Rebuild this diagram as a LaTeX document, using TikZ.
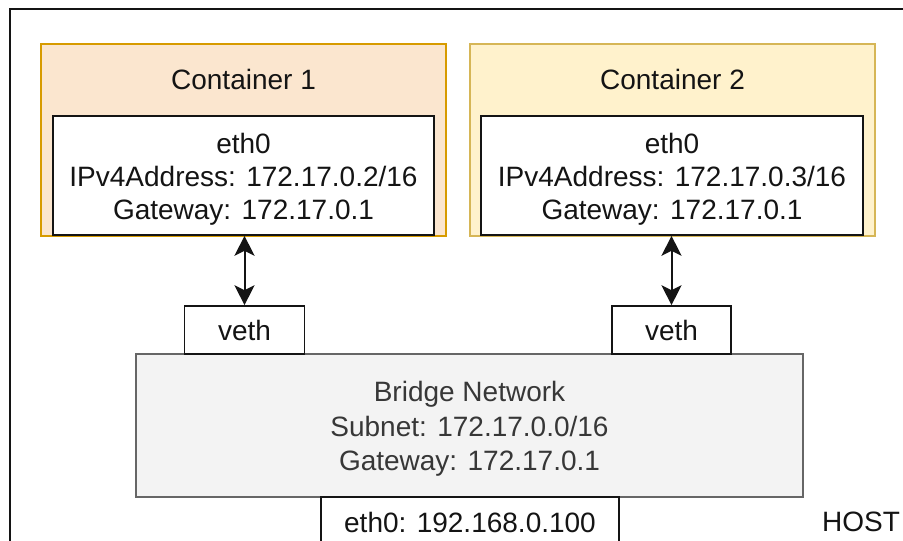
\documentclass[tikz,border=0pt]{standalone}
\usepackage{fontspec}
\setmainfont{Liberation Sans}
\usetikzlibrary{arrows.meta}
\definecolor{orfill}{HTML}{FBE6CF}
\definecolor{ordraw}{HTML}{D79B00}
\definecolor{yefill}{HTML}{FFF2CC}
\definecolor{yedraw}{HTML}{D6B656}
\definecolor{brfill}{HTML}{F3F3F3}
\definecolor{brdraw}{HTML}{666666}
\definecolor{ink}{HTML}{141414}
\begin{document}
\begin{tikzpicture}[x=1pt,y=-1pt,
  every node/.style={font=\fontsize{28}{33}\selectfont, text=ink},
  box/.style={draw=ink, line width=1.6pt, rectangle, inner sep=0pt, align=center},
  label text/.style={align=center, inner sep=0pt},
  container/.style={rectangle, line width=1.6pt, inner sep=0pt},
  link/.style={draw=ink, line width=2pt, {Stealth[length=20pt,width=20pt,inset=5pt]}-{Stealth[length=20pt,width=20pt,inset=5pt]}}
]
\useasboundingbox (0,0) rectangle (903,541);
\clip (0,0) rectangle (903,541);
\fill[white] (0,0) rectangle (903,541);

% host frame, running off the right and bottom edges
\draw[ink, line width=1.8pt] (10,9) rectangle (940,600);

% containers
\node[container, fill=orfill, draw=ordraw, minimum width=405pt, minimum height=192pt] (c1) at (243.5,140) {};
\node[container, fill=yefill, draw=yedraw, minimum width=405pt, minimum height=192pt] (c2) at (672.5,140) {};
\node (t1) at (243.5,79.5) {Container 1};
\node (t2) at (672.5,79.5) {Container 2};

% container interfaces
\node[box, fill=white, minimum width=381pt, minimum height=119pt] (e1) at (243.5,175.5) {};
\node[box, fill=white, minimum width=382pt, minimum height=119pt] (e2) at (672,175.5) {};
\node[label text] (e1t) at (243.5,179)
  {eth0\\IPv4Address: 172.17.0.2/16\\Gateway: 172.17.0.1};
\node[label text] (e2t) at (672,179)
  {eth0\\IPv4Address: 172.17.0.3/16\\Gateway: 172.17.0.1};

% bridge and host interface
\node[box, draw=brdraw, fill=brfill, minimum width=667pt, minimum height=143pt] (br) at (469.5,425.5) {};
\node[label text, text=ink!85, font=\fontsize{28}{34.5}\selectfont] (brt) at (469.5,429)
  {Bridge Network\\Subnet: 172.17.0.0/16\\Gateway: 172.17.0.1};
\node[box, fill=white, minimum width=298pt, minimum height=66pt] (h0) at (470,530) {};
\node (h0t) at (470,522) {eth0: 192.168.0.100};
\node (host) at (861,522) {HOST};

% veth pairs
\node[box, fill=white, minimum width=120pt, minimum height=48pt] (v1) at (244.5,330) {veth};
\node[box, fill=white, minimum width=119pt, minimum height=48pt] (v2) at (671.5,330) {veth};

\draw[link] (e1.south -| v1.north) -- (v1.north);
\draw[link] (e2.south -| v2.north) -- (v2.north);
\end{tikzpicture}
\end{document}
